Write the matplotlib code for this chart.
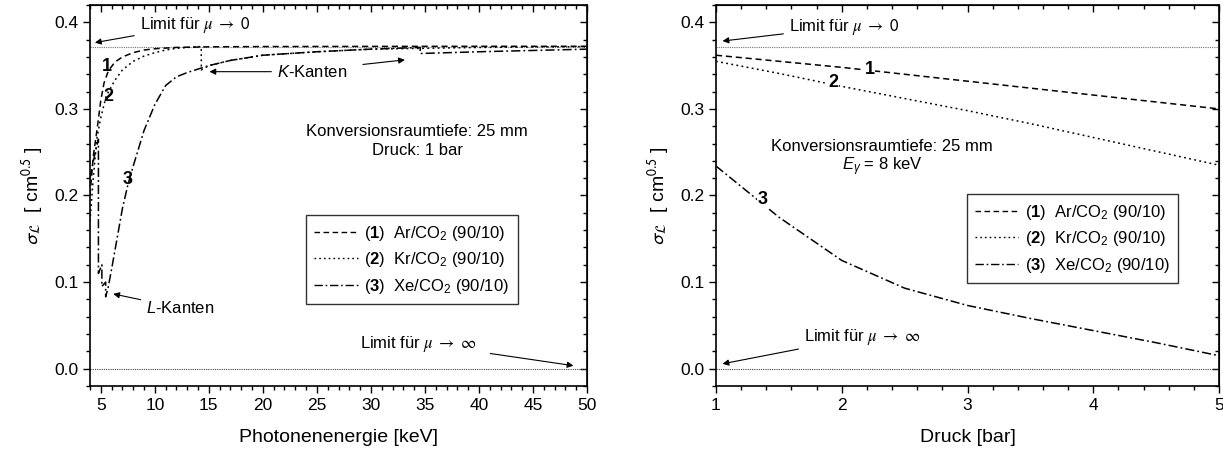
import matplotlib
matplotlib.use('Agg')
import matplotlib.pyplot as plt
from matplotlib.ticker import MultipleLocator
from matplotlib.lines import Line2D

plt.rcParams['font.family'] = ['Liberation Sans', 'DejaVu Sans']
plt.rcParams['mathtext.fontset'] = 'custom'
plt.rcParams['mathtext.rm'] = 'Liberation Sans'
plt.rcParams['mathtext.it'] = 'Liberation Sans:italic'
plt.rcParams['mathtext.bf'] = 'Liberation Sans:bold'

# --- Daten: links sigma_L gegen Photonenenergie (1 bar) ---
energie_ar = [4.0, 4.3, 4.65, 5.0, 5.3, 5.7, 6.3, 7.0, 8.0, 9.0, 10.0, 12.0, 15.0, 20.0, 30.0, 40.0, 50.0]
sigma_ar = [0.200, 0.245, 0.276, 0.310, 0.330, 0.344, 0.354, 0.360, 0.365, 0.368, 0.3695, 0.371,
            0.3717, 0.372, 0.3722, 0.3723, 0.3723]

energie_kr = [4.0, 4.3, 4.65, 5.0, 5.5, 6.3, 7.0, 8.0, 9.0, 10.0, 11.0, 12.0, 13.0, 14.3, 14.3,
              15.0, 17.0, 20.0, 25.0, 30.0, 35.0, 40.0, 50.0]
sigma_kr = [0.170, 0.220, 0.267, 0.290, 0.315, 0.333, 0.345, 0.355, 0.361, 0.365, 0.368, 0.370,
            0.371, 0.372, 0.345, 0.350, 0.356, 0.362, 0.366, 0.369, 0.370, 0.371, 0.372]

energie_xe = [4.0, 4.4, 4.78, 4.78, 5.1, 5.1, 5.45, 5.45, 5.7, 6.0, 6.5, 7.0, 7.5, 8.0, 9.0, 10.0,
              11.0, 12.0, 13.0, 14.0, 15.0, 17.0, 20.0, 25.0, 30.0, 34.56, 34.56, 40.0, 45.0, 50.0]
sigma_xe = [0.220, 0.245, 0.265, 0.110, 0.120, 0.095, 0.100, 0.083, 0.095, 0.115, 0.150, 0.185,
            0.212, 0.234, 0.275, 0.305, 0.327, 0.337, 0.342, 0.346, 0.350, 0.356, 0.362, 0.366,
            0.369, 0.371, 0.364, 0.366, 0.3675, 0.369]

# --- Daten: rechts sigma_L gegen Druck (8 keV) ---
druck = [1.0, 1.5, 2.0, 2.5, 3.0, 3.5, 4.0, 4.5, 5.0]
sigma_ar_p = [0.362, 0.355, 0.348, 0.340, 0.332, 0.324, 0.316, 0.308, 0.300]
sigma_kr_p = [0.355, 0.341, 0.326, 0.312, 0.298, 0.283, 0.267, 0.251, 0.235]
sigma_xe_p = [0.234, 0.175, 0.125, 0.093, 0.073, 0.058, 0.044, 0.030, 0.015]

limit_null = 0.372
limit_unendlich = 0.0

gase = ['Ar/CO$_2$ (90/10)', 'Kr/CO$_2$ (90/10)', 'Xe/CO$_2$ (90/10)']
stile = [(0, (4, 2.5)), (0, (1.2, 2.2)), (0, (6, 2, 1.2, 2))]

txt_null = r'Limit für $\mu\ \rightarrow\ \mathsf{0}$'
txt_unendl = r'Limit für $\mu\ \rightarrow\ \infty$'

fig = plt.figure(figsize=(12.23, 4.59), dpi=100)
ax1 = fig.add_axes([90 / 1223, 73 / 459, 497 / 1223, 381 / 459])
ax2 = fig.add_axes([716 / 1223, 73 / 459, 503 / 1223, 381 / 459])


def achsen(ax):
    ax.set_ylim(-0.02, 0.42)
    ax.yaxis.set_major_locator(MultipleLocator(0.1))
    ax.yaxis.set_minor_locator(MultipleLocator(0.02))
    ax.yaxis.set_major_formatter(plt.FormatStrFormatter('%.1f'))
    ax.tick_params(which='both', labelsize=12.5, direction='out', top=False, right=False)
    ax.tick_params(which='major', length=5, width=1)
    ax.tick_params(which='minor', length=3, width=1)
    for sp in ax.spines.values():
        sp.set_linewidth(1.2)
    ax.axhline(limit_null, color='0.45', lw=0.8, ls=(0, (1, 1)))
    ax.axhline(limit_unendlich, color='0.25', lw=0.8, ls=(0, (1, 1)))
    ax.set_ylabel(r'$\sigma_{\mathcal{L}}$  [ cm$^{0.5}$ ]', fontsize=14, labelpad=6,
                  math_fontfamily='stixsans')
    handles = [Line2D([], [], color='black', lw=1.0, ls=s) for s in stile]
    labels = [r'($\mathbf{%d}$)  %s' % (i + 1, g) for i, g in enumerate(gase)]
    return handles, labels


pfeil = dict(arrowstyle='-|>', color='black', lw=0.8, mutation_scale=9)
legende = dict(loc='upper left', fontsize=12, frameon=True, fancybox=False, edgecolor='black',
               handlelength=2.6, borderpad=0.5, labelspacing=0.45, handletextpad=0.4)

# linkes Diagramm
h, l = achsen(ax1)
ax1.plot(energie_ar, sigma_ar, color='black', lw=1.1, ls=stile[0])
ax1.plot(energie_kr, sigma_kr, color='black', lw=1.1, ls=stile[1])
ax1.plot(energie_xe, sigma_xe, color='black', lw=1.1, ls=stile[2])
ax1.set_xlim(4, 50)
ax1.set_xticks([5, 10, 15, 20, 25, 30, 35, 40, 45, 50])
ax1.xaxis.set_minor_locator(MultipleLocator(1))
ax1.set_xlabel('Photonenenergie [keV]', fontsize=14, labelpad=12)
ax1.legend(h, l, bbox_to_anchor=(0.418, 0.47), **legende).get_frame().set_linewidth(1.0)

ax1.annotate(txt_null, xy=(4.2, 0.376), xytext=(8.6, 0.397), fontsize=12, va='center',
             arrowprops=pfeil, math_fontfamily='stix')
ax1.annotate(r'$\mathit{K}$-Kanten', xy=(14.8, 0.343), xytext=(21.3, 0.343), fontsize=12,
             va='center', arrowprops=pfeil)
ax1.annotate('', xy=(33.4, 0.357), xytext=(29.0, 0.351), arrowprops=pfeil)
ax1.annotate(r'$\mathit{L}$-Kanten', xy=(5.9, 0.087), xytext=(9.2, 0.070), fontsize=12,
             va='center', arrowprops=pfeil)
ax1.annotate('', xy=(49.0, 0.003), xytext=(40.8, 0.018), arrowprops=pfeil)
ax1.text(29.0, 0.028, txt_unendl, fontsize=12, va='center', math_fontfamily='stix')
ax1.text(34.3, 0.263, 'Konversionsraumtiefe: 25 mm\nDruck: 1 bar', fontsize=12, ha='center',
         va='center', linespacing=1.35)
ax1.text(5.6, 0.349, '1', fontsize=13, fontweight='bold', ha='center', va='center')
ax1.text(5.7, 0.314, '2', fontsize=13, fontweight='bold', ha='center', va='center')
ax1.text(7.5, 0.218, '3', fontsize=13, fontweight='bold', ha='center', va='center')

# rechtes Diagramm
h, l = achsen(ax2)
ax2.plot(druck, sigma_ar_p, color='black', lw=1.1, ls=stile[0])
ax2.plot(druck, sigma_kr_p, color='black', lw=1.1, ls=stile[1])
ax2.plot(druck, sigma_xe_p, color='black', lw=1.1, ls=stile[2])
ax2.set_xlim(1, 5)
ax2.xaxis.set_major_locator(MultipleLocator(1))
ax2.xaxis.set_minor_locator(MultipleLocator(0.2))
ax2.set_xlabel('Druck [bar]', fontsize=14, labelpad=12)
ax2.legend(h, l, bbox_to_anchor=(0.482, 0.525), **legende).get_frame().set_linewidth(1.0)
ax2.annotate(txt_null, xy=(1.03, 0.378), xytext=(1.58, 0.395), fontsize=12, va='center',
             arrowprops=pfeil, math_fontfamily='stix')
ax2.annotate(txt_unendl, xy=(1.03, 0.005), xytext=(1.7, 0.037), fontsize=12, va='center',
             arrowprops=pfeil, math_fontfamily='stix')
ax2.text(2.32, 0.257, 'Konversionsraumtiefe: 25 mm', fontsize=12, ha='center', va='center')
ax2.text(2.32, 0.233, r'$E_{\gamma}$ = 8 keV', fontsize=12, ha='center', va='center')
for x, y, t in [(2.22, 0.345, '1'), (1.93, 0.330, '2'), (1.37, 0.195, '3')]:
    ax2.text(x, y, t, fontsize=13, fontweight='bold', ha='center', va='center',
             bbox=dict(fc='white', ec='none', pad=0.5))

# oben/rechts Ticks nach innen
for ax in (ax1, ax2):
    oben = ax.secondary_xaxis('top')
    oben.set_xticks(ax.get_xticks())
    oben.xaxis.set_minor_locator(ax.xaxis.get_minor_locator())
    oben.tick_params(which='both', direction='in', labeltop=False, width=1)
    oben.tick_params(which='major', length=5)
    oben.tick_params(which='minor', length=3)
    rechts = ax.secondary_yaxis('right')
    rechts.set_yticks(ax.get_yticks())
    rechts.yaxis.set_minor_locator(MultipleLocator(0.02))
    rechts.tick_params(which='both', direction='in', labelright=False, width=1)
    rechts.tick_params(which='major', length=5)
    rechts.tick_params(which='minor', length=3)

fig.savefig('out.png', dpi=100)
